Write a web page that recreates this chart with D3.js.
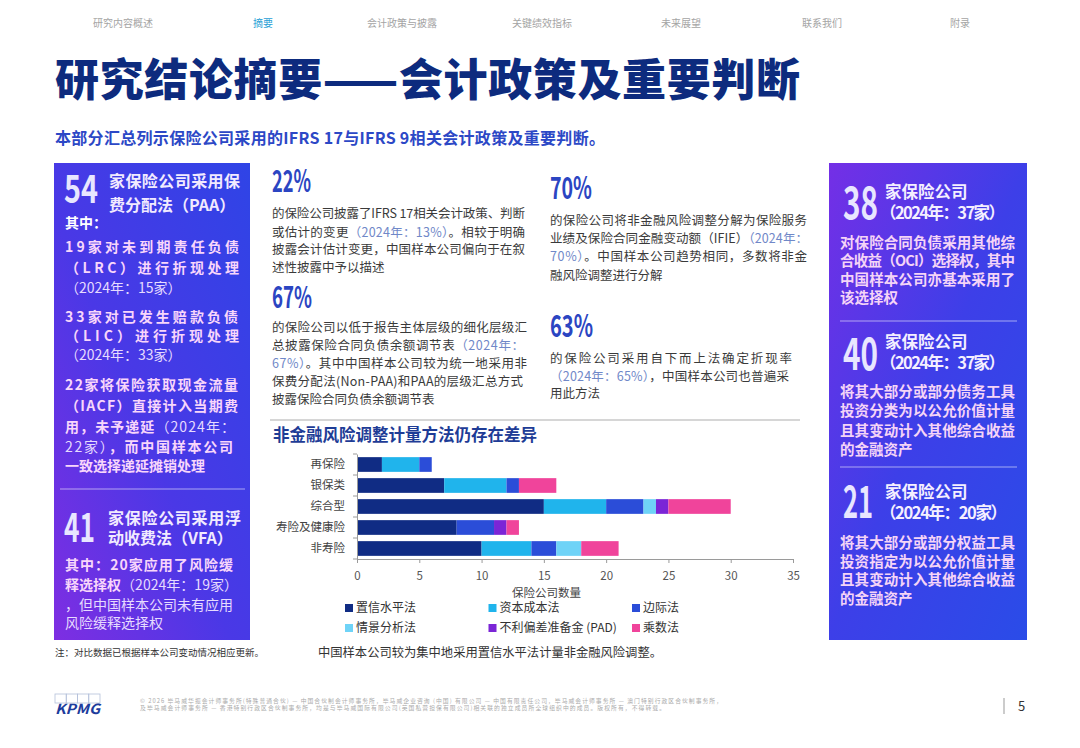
<!DOCTYPE html>
<html>
<head>
<meta charset="utf-8">
<script src="https://cdn.jsdelivr.net/npm/d3@7"></script>
<style>
html, body { margin: 0; padding: 0; background: #fff; }
svg text { font-family: "Noto Sans CJK SC", "Noto Sans", sans-serif; }
</style>
</head>
<body>
<svg id="page"></svg>
<script>
// 图表数据
const categories = ["再保险", "银保类", "综合型", "寿险及健康险", "非寿险"];
const methods = ["置信水平法", "资本成本法", "边际法", "情景分析法", "不利偏差准备金 (PAD)", "乘数法"];
const confidenceLevel = [2, 7, 15, 8, 10];
const costOfCapital = [3, 5, 5, 0, 4];
const marginal = [1, 1, 3, 3, 2];
const scenario = [0, 0, 1, 0, 2];
const pad = [0, 0, 1, 1, 0];
const multiplier = [0, 3, 5, 1, 3];
const xTicks = [0, 5, 10, 15, 20, 25, 30, 35];
const methodColors = ["#102c84", "#20b4ec", "#2b4dd8", "#6fd3f7", "#7b25d6", "#f0449b"];

const navItems = ["研究内容概述", "摘要", "会计政策与披露", "关键绩效指标", "未来展望", "联系我们", "附录"];

const svg = d3.select("#page").attr("width", 1080).attr("height", 748);
const defs = svg.append("defs");

// 渐变背景
const gl = defs.append("linearGradient").attr("id", "gradL")
  .attr("x1", "0").attr("y1", "1").attr("x2", "1").attr("y2", "0");
gl.append("stop").attr("offset", "0%").attr("stop-color", "#7e2ee2");
gl.append("stop").attr("offset", "45%").attr("stop-color", "#4a38e6");
gl.append("stop").attr("offset", "100%").attr("stop-color", "#2f44e6");

const gr = defs.append("linearGradient").attr("id", "gradR")
  .attr("x1", "0").attr("y1", "0").attr("x2", "1").attr("y2", "1");
gr.append("stop").attr("offset", "0%").attr("stop-color", "#742fe6");
gr.append("stop").attr("offset", "50%").attr("stop-color", "#3d3fe8");
gr.append("stop").attr("offset", "100%").attr("stop-color", "#2a4ce8");

// 文本行（y 为文字中心）
function line(x, y, segs, o) {
  const t = svg.append("text")
    .attr("x", x)
    .attr("y", y + 0.37 * o.size)
    .attr("font-size", o.size)
    .attr("font-weight", o.weight || 400)
    .attr("fill", o.color);
  if (o.width) t.attr("textLength", o.width).attr("lengthAdjust", "spacing");
  if (typeof segs === "string") segs = [[segs]];
  segs.forEach(([s, st]) => {
    const ts = t.append("tspan").text(s);
    if (st) Object.keys(st).forEach(k => ts.attr(k, st[k]));
  });
  return t;
}

function bigNum(x, baseline, txt, size, w, color) {
  svg.append("text")
    .attr("x", x).attr("y", baseline)
    .attr("font-family", "Roboto, 'Liberation Sans', sans-serif")
    .attr("font-weight", 700)
    .attr("font-size", size)
    .attr("textLength", w)
    .attr("lengthAdjust", "spacingAndGlyphs")
    .attr("fill", color)
    .text(txt);
}

function hr(x1, x2, y, color, w) {
  svg.append("line").attr("x1", x1).attr("x2", x2).attr("y1", y).attr("y2", y)
    .attr("stroke", color).attr("stroke-width", w);
}

// 顶部导航
const navX = [93, 253, 367, 512, 661, 802, 950];
navItems.forEach((d, i) => {
  line(navX[i], 23, d, { size: 10, color: i === 1 ? "#2a9fd6" : "#a4a4a4" });
});

// 标题
line(55, 80, "研究结论摘要——会计政策及重要判断", { size: 44, weight: 900, color: "#0d2b7e", width: 745 });
line(55, 138, "本部分汇总列示保险公司采用的IFRS 17与IFRS 9相关会计政策及重要判断。",
  { size: 16, weight: 700, color: "#2c48c6", width: 550 });

// 左侧面板
svg.append("rect").attr("x", 54).attr("y", 163).attr("width", 196).attr("height", 477).attr("fill", "url(#gradL)");
const headC = "#f1eaff", boldC = "#f8d6fb", normC = "#e6dbff";
const B = { "font-weight": 700, fill: boldC }, N = { "font-weight": 400, fill: normC };

bigNum(64, 203, "54", 39.5, 34, "#e8e6ff");
line(109, 181, "家保险公司采用保", { size: 16, weight: 700, color: headC, width: 131 });
line(109, 205, "费分配法（PAA）", { size: 16, weight: 700, color: headC });
line(65, 223, "其中：", { size: 14, weight: 700, color: "#ffffff" });
line(65, 247, "19家对未到期责任负债", { size: 14, weight: 700, color: boldC, width: 174 });
line(65, 268, "（LRC）进行折现处理", { size: 14, weight: 700, color: boldC, width: 174 });
line(65, 288, "（2024年：15家）", { size: 14, color: normC });
line(65, 317, "33家对已发生赔款负债", { size: 14, weight: 700, color: boldC, width: 173 });
line(65, 336, "（LIC）进行折现处理", { size: 14, weight: 700, color: boldC, width: 174 });
line(65, 355, "（2024年：33家）", { size: 14, color: normC });
line(65, 385, "22家将保险获取现金流量", { size: 14, weight: 700, color: boldC, width: 173 });
line(65, 406, "（IACF）直接计入当期费", { size: 14, weight: 700, color: boldC, width: 173 });
line(65, 427, [["用，未予递延", B], ["（2024年：", N]], { size: 14, color: boldC, width: 170 });
line(65, 447, [["22家）", N], ["，而中国样本公司", B]], { size: 14, color: boldC, width: 168 });
line(65, 466, "一致选择递延摊销处理", { size: 14, weight: 700, color: boldC });
hr(60, 245, 489, "rgba(255,255,255,0.55)", 1);
bigNum(64, 542, "41", 40.5, 31, "#e8e6ff");
line(108, 518, "家保险公司采用浮", { size: 16, weight: 700, color: headC, width: 133 });
line(108, 538, "动收费法（VFA）", { size: 16, weight: 700, color: headC });
line(65, 565, "其中：20家应用了风险缓", { size: 14, weight: 700, color: boldC, width: 168 });
line(65, 585, [["释选择权", B], ["（2024年：19家）", N]], { size: 14, color: boldC, width: 173 });
line(65, 605, "，但中国样本公司未有应用", { size: 14, color: normC, width: 168 });
line(65, 623, "风险缓释选择权", { size: 14, color: normC });
line(55, 652, "注：对比数据已根据样本公司变动情况相应更新。", { size: 9.5, color: "#333" });

// 右侧面板
svg.append("rect").attr("x", 829).attr("y", 163).attr("width", 198).attr("height", 477).attr("fill", "url(#gradR)");
const rBody = { size: 14.5, weight: 700, color: "#f5d4f7" };
const rHead = { size: 16.5, weight: 700, color: "#f4efff" };
bigNum(843, 219, "38", 45, 35, "#e8e6ff");
line(885, 192, "家保险公司", rHead);
line(880, 213, "（2024年：37家）", Object.assign({}, rHead, { width: 125 }));
line(840, 243, "对保险合同负债采用其他综", Object.assign({}, rBody, { width: 175 }));
line(840, 261, "合收益（OCI）选择权，其中", Object.assign({}, rBody, { width: 175 }));
line(840, 279.5, "中国样本公司亦基本采用了", Object.assign({}, rBody, { width: 175 }));
line(840, 298, "该选择权", rBody);
hr(840, 1017, 321, "rgba(255,255,255,0.55)", 1);
bigNum(843, 370, "40", 45, 35, "#e8e6ff");
line(885, 342, "家保险公司", rHead);
line(880, 363, "（2024年：37家）", Object.assign({}, rHead, { width: 125 }));
line(840, 392, "将其大部分或部分债务工具", Object.assign({}, rBody, { width: 175 }));
line(840, 411, "投资分类为以公允价值计量", Object.assign({}, rBody, { width: 175 }));
line(840, 430.5, "且其变动计入其他综合收益", Object.assign({}, rBody, { width: 175 }));
line(840, 449.5, "的金融资产", rBody);
hr(840, 1017, 467, "rgba(255,255,255,0.55)", 1);
bigNum(843, 518, "21", 44, 30, "#e8e6ff");
line(885, 492, "家保险公司", rHead);
line(880, 513, "（2024年：20家）", Object.assign({}, rHead, { width: 127 }));
line(840, 542.5, "将其大部分或部分权益工具", Object.assign({}, rBody, { width: 175 }));
line(840, 561.5, "投资指定为以公允价值计量", Object.assign({}, rBody, { width: 175 }));
line(840, 580, "且其变动计入其他综合收益", Object.assign({}, rBody, { width: 175 }));
line(840, 598.5, "的金融资产", rBody);

// 中间文字
const blue = "#2b45c2", txtC = "#3a3a3a";
const H = { fill: "#7088c8" };
const P = { size: 12.5, color: txtC };
const Pw = w => Object.assign({}, P, { width: w });
bigNum(272, 192, "22%", 31, 39, blue);
line(272, 213, "的保险公司披露了IFRS 17相关会计政策、判断", Pw(253));
line(272, 232, [["或估计的变更"], ["（2024年：13%）", H], ["。相较于明确"]], Pw(253));
line(272, 249.5, "披露会计估计变更，中国样本公司偏向于在叙", Pw(253));
line(272, 267, "述性披露中予以描述", P);
bigNum(272, 308, "67%", 30, 40, blue);
line(272, 327, "的保险公司以低于报告主体层级的细化层级汇", Pw(255));
line(272, 345.5, [["总披露保险合同负债余额调节表"], ["（2024年：", H]], Pw(252));
line(272, 363.5, [["67%）", H], ["。其中中国样本公司较为统一地采用非"]], Pw(255));
line(272, 381.5, "保费分配法(Non-PAA)和PAA的层级汇总方式", Pw(251));
line(272, 399.5, "披露保险合同负债余额调节表", P);
bigNum(550, 199, "70%", 31, 42, blue);
line(550, 220, "的保险公司将非金融风险调整分解为保险服务", Pw(257));
line(550, 238, [["业绩及保险合同金融变动额（IFIE）"], ["（2024年：", H]], Pw(258));
line(550, 256.5, [["70%）", H], ["。中国样本公司趋势相同，多数将非金"]], Pw(257));
line(550, 275, "融风险调整进行分解", P);
bigNum(550, 337, "63%", 31, 43, blue);
line(550, 358, "的保险公司采用自下而上法确定折现率", Pw(242));
line(550, 376, [["（2024年：65%）", H], ["，中国样本公司也普遍采"]], Pw(239));
line(550, 393.5, "用此方法", P);

// 图表
hr(270, 800, 420, "#c8c8c8", 1.5);
line(273, 435, "非金融风险调整计量方法仍存在差异", { size: 16.5, weight: 700, color: "#1e3c96" });

const series = [confidenceLevel, costOfCapital, marginal, scenario, pad, multiplier];
const table = categories.map((c, i) => {
  const row = { category: c };
  methods.forEach((m, j) => { row[m] = series[j][i]; });
  return row;
});
const stacked = d3.stack().keys(methods)(table);

const xScale = d3.scaleLinear().domain([0, 35]).range([357, 793]);
const yScale = d3.scaleBand().domain(categories).range([454, 559])
  .paddingInner(0.3).paddingOuter(0.15);

const barsGroup = svg.append("g").attr("class", "bars");
stacked.forEach((layer, j) => {
  barsGroup.selectAll(".bar-" + j)
    .data(layer)
    .enter()
    .append("rect")
    .attr("x", d => xScale(d[0]))
    .attr("y", d => yScale(d.data.category))
    .attr("width", d => xScale(d[1]) - xScale(d[0]))
    .attr("height", yScale.bandwidth())
    .attr("fill", methodColors[j]);
});

// 坐标轴
const axisC = "#9a9a9a";
const yAxis = svg.append("g")
  .attr("transform", "translate(357,0)")
  .call(d3.axisLeft(yScale).tickSize(0).tickSizeOuter(0).tickPadding(12));
yAxis.select(".domain").attr("stroke", axisC);
yAxis.selectAll("text").attr("font-size", 11.5).attr("fill", "#444")
  .style("font-family", "'Noto Sans CJK SC', sans-serif");

const halfGap = yScale.step() * yScale.paddingInner() / 2;
const bounds = categories.map(c => yScale(c) - halfGap)
  .concat([yScale(categories[categories.length - 1]) + yScale.bandwidth() + halfGap]);
svg.append("g").selectAll("line").data(bounds).enter().append("line")
  .attr("x1", 353).attr("x2", 357)
  .attr("y1", d => d).attr("y2", d => d)
  .attr("stroke", axisC);

const xAxis = svg.append("g")
  .attr("transform", "translate(0,559)")
  .call(d3.axisBottom(xScale).tickValues(xTicks).tickSize(4).tickSizeOuter(0).tickPadding(9));
xAxis.select(".domain").attr("stroke", axisC);
xAxis.selectAll(".tick line").attr("stroke", axisC);
xAxis.selectAll("text").attr("font-size", 11.5).attr("fill", "#555")
  .style("font-family", "'Noto Sans CJK SC', sans-serif");

line(549 - 37, 593, "保险公司数量", { size: 11.5, color: "#444" });

// 图例
methods.forEach((m, i) => {
  const lx = 345 + (i % 3) * 143.5;
  const ly = 608 + Math.floor(i / 3) * 20;
  svg.append("rect").attr("x", lx).attr("y", ly - 4).attr("width", 8).attr("height", 8)
    .attr("fill", methodColors[i]);
  line(lx + 11, ly, m, { size: 12, color: "#333" });
});

line(318, 652, "中国样本公司较为集中地采用置信水平法计量非金融风险调整。", { size: 12.3, color: "#333", width: 344 });

// 页脚
for (let i = 0; i < 4; i++) {
  svg.append("rect").attr("x", 55 + i * 11.25).attr("y", 694).attr("width", 11.25).attr("height", 9)
    .attr("fill", "none").attr("stroke", "#b4c0da").attr("stroke-width", 0.8);
}
svg.append("text").attr("x", 55).attr("y", 714)
  .attr("font-family", "Roboto, 'Liberation Sans', sans-serif")
  .attr("font-weight", 700).attr("font-style", "italic").attr("font-size", 14)
  .attr("textLength", 45).attr("lengthAdjust", "spacingAndGlyphs")
  .attr("fill", "#1d3c9c").text("KPMG");
line(140, 700.5, "© 2026 毕马威华振会计师事务所(特殊普通合伙) — 中国合伙制会计师事务所，毕马威企业咨询 (中国) 有限公司 — 中国有限责任公司，毕马威会计师事务所 — 澳门特别行政区合伙制事务所，",
  { size: 5.8, color: "#aaa", width: 582 });
line(140, 707.5, "及毕马威会计师事务所 — 香港特别行政区合伙制事务所，均是与毕马威国际有限公司(英国私营担保有限公司)相关联的独立成员所全球组织中的成员。版权所有，不得转载。",
  { size: 5.8, color: "#aaa", width: 525 });
svg.append("line").attr("x1", 1004).attr("x2", 1004).attr("y1", 698).attr("y2", 714)
  .attr("stroke", "#999").attr("stroke-width", 1);
line(1018, 706, "5", { size: 13, color: "#333" });
</script>
</body>
</html>
